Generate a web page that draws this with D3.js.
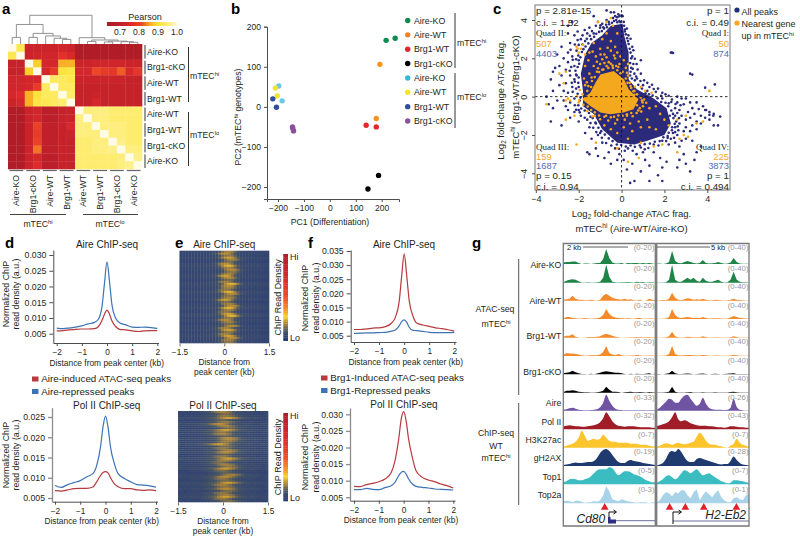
<!DOCTYPE html>
<html>
<head>
<meta charset="utf-8">
<script src="https://cdn.jsdelivr.net/npm/d3@7"></script>
<style>
  html, body { margin: 0; padding: 0; background: #fff; }
  svg { display: block; font-family: "Liberation Sans", Arial, sans-serif; }
  text { fill: #231f20; }
  .tick text { font-family: "Liberation Sans", Arial, sans-serif; }
</style>
</head>
<body>
<div class="svg-container"></div>
<script>
/* =================== data ================= */

// panel a
var genotypes = ["Aire-KO", "Brg1-cKO", "Aire-WT", "Brg1-WT", "Aire-WT", "Brg1-WT", "Brg1-cKO", "Aire-KO"];
var pearsonTicks = [0.7, 0.8, 0.9, 1.0];
var pearson = [
  [1.00,.92,.72,.72,.72,.72,.73,.72,.66,.66,.66,.66,.66,.66,.66,.66],
  [.92,1.00,.72,.73,.73,.73,.77,.75,.66,.66,.66,.66,.66,.66,.66,.66],
  [.71,.71,1.00,.88,.74,.74,.86,.86,.72,.72,.73,.73,.73,.73,.72,.72],
  [.71,.71,.88,1.00,.74,.79,.90,.91,.74,.74,.81,.79,.78,.82,.75,.78],
  [.73,.73,.74,.74,1.00,.93,.93,.92,.72,.72,.72,.72,.72,.72,.71,.71],
  [.73,.73,.74,.79,.93,1.00,.93,.93,.71,.71,.71,.71,.71,.71,.71,.71],
  [.74,.76,.86,.90,.93,.93,1.00,.94,.71,.71,.72,.71,.71,.71,.71,.71],
  [.72,.74,.86,.91,.92,.93,.94,1.00,.71,.71,.74,.71,.71,.71,.71,.71],
  [.66,.66,.72,.73,.69,.69,.71,.71,1.00,.95,.95,.95,.94,.94,.94,.94],
  [.66,.66,.72,.74,.69,.69,.71,.72,.95,1.00,.95,.95,.94,.94,.94,.94],
  [.66,.66,.72,.80,.70,.70,.71,.75,.95,.95,1.00,.95,.95,.95,.94,.94],
  [.66,.66,.72,.79,.70,.70,.71,.72,.95,.95,.95,1.00,.95,.95,.94,.94],
  [.66,.66,.72,.80,.70,.70,.71,.71,.94,.94,.95,.95,1.00,.96,.94,.94],
  [.66,.66,.72,.83,.70,.70,.71,.71,.94,.94,.95,.95,.96,1.00,.95,.95],
  [.66,.66,.72,.74,.69,.69,.71,.71,.94,.94,.94,.94,.94,.95,1.00,.96],
  [.66,.66,.72,.76,.69,.69,.71,.71,.94,.94,.94,.94,.94,.95,.96,1.00]
];
// nodes are [height, left, right], leaves are heatmap column numbers
var dendrogram = [1.0,
  [.68, [.23, 0, 1],
        [.37, [.23, 2, 3], [.28, 4, [.20, 5, [.16, 6, 7]]]]],
  [.22, 8, [.14, [.09, 9, 10], [.10, [.07, 11, 12], [.08, 13, [.06, 14, 15]]]]]
];

// panel b
var pcaGroups = ["Aire-KO", "Aire-WT", "Brg1-WT", "Brg1-cKO", "Aire-KO", "Aire-WT", "Brg1-WT", "Brg1-cKO"];
var pcaColors = ["#0f8a50", "#f5822a", "#e3262c", "#000000", "#35b9d8", "#f2e62c", "#2e4fa0", "#8e4f9f"];
var pcaSampleColors = ["#0f8a50", "#0f8a50", "#f7941e", "#f7941e", "#e3262c", "#e3262c", "#000000", "#000000",
                       "#6ec6e6", "#6ec6e6", "#f2e62c", "#f2e62c", "#2e4fa0", "#2e4fa0", "#8e4f9f", "#8e4f9f", "#8e4f9f"];
var pc1 = [217, 252, 193, 179, 140, 179, 188, 147, -197, -184, -210, -203, -220, -206, -144, -143, -140];
var pc2 = [166, 171, 106, -29, -46, -50, -171, -205, 52, 15, 47, 27, 20, -1, -50, -54, -60];

// panel c: outline of the solid part of each cloud, then the points around it
var navyCloud = [[-.5,3.7],[.05,3.8],[.12,3.2],[.33,2.3],[.33,.9],[.71,.38],[1.5,-.1],[2.1,-.6],[2.3,-1.4],[2.0,-2.0],[1.2,-2.3],
  [.6,-2.5],[-.2,-2.4],[-.9,-1.7],[-1.3,-.9],[-1.8,-.5],[-1.8,.3],[-1.9,1.2],[-1.7,2.2],[-1.4,2.8],[-.9,3.2]];
var goldCloud = [[-.99,1.16],[-.37,1.34],[.12,.9],[.33,.38],[.79,-.14],[.56,-.66],[.09,-.83],[-.53,-.92],[-.99,-.83],
  [-1.46,-.49],[-1.85,-.14],[-1.46,.21],[-1.22,.73]];
var navyPoints = [[-3.2,1.3],[-3.1,1.5],[-2.9,1.6],[-3.3,.9],[-2.8,1.1],[-2.6,1.4],[-2.6,.7],[-2.9,.6],[-3.2,.3],[-3.5,0],[-3.4,-.4],[-3.2,-.6],
  [-3.3,-1.3],[-2.7,-.2],[-2.4,-.3],[-2.5,.2],[-2.3,.5],[-2.7,.3],[-2.2,.9],[-2.4,1.1],[-2.5,1.8],[-2.2,1.6],[-2.3,2.1],[-2.7,2.0],[-2.5,2.3],
  [-2.1,2.4],[-2.0,2.7],[-1.9,3.0],[-1.7,2.9],[-1.6,3.3],[-2.2,3.2],[-2.5,3.7],[-2.3,3.9],[-2.5,3.3],[-2.4,2.8],[-1.3,3.3],[-1.5,3.6],[-1.2,3.7],
  [-1.0,3.6],[-1.1,3.9],[-.7,4.0],[-.6,3.9],[-.4,4.1],[-.3,4.2],[-.2,4.15],[-.1,4.2],[0,4.25],[.05,4.2],[-.25,4.0],[-.1,3.95],[.1,3.9],[-.35,4.4],
  [-.15,4.3],[-.9,3.8],[-1.3,4.2],[-.7,4.5],[-.5,4.4],[-2.05,3.4],[-2.8,2.6],[-3.0,2.2],[-2.0,1.9],[-2.1,1.1],[-2.0,.5],[-1.95,-.2],
  [.3,2.9],[.5,2.6],[.15,3.4],[.5,2.1],[.7,1.7],[.45,1.5],[.6,1.2],[.9,1.2],[.9,1.9],[.55,1.7],[.4,1.1],[1.0,.6],[1.3,.5],[1.5,.4],[1.2,.3],[1.6,.25],
  [1.9,.2],[2.2,.05],[2.3,2.3],[2.35,2.3],[2.4,2.28],[3.2,1.2],[3.3,1.15],[3.9,.47],[4.35,.64],[4.28,-1.0],[4.6,-1.04],[3.95,-.7],[4.1,-.95],[4.5,-1.5],[4.3,-1.5],
  [2.6,0],[2.8,-.1],[3.0,-.1],[3.2,-.3],[3.5,-.3],[3.8,-.5],[3.6,-.65],[3.9,-.7],[4.1,-.8],[4.3,-.9],[3.3,-.6],[2.9,-.4],[2.6,-.3],[2.5,-.6],[2.7,-.7],
  [3.1,-.8],[3.4,-.9],[3.7,-1.0],[3.9,-1.1],[4.1,-1.2],[2.5,-1.0],[2.8,-1.0],[3.0,-1.2],[3.2,-1.1],[3.5,-1.3],[3.7,-1.4],[3.3,-1.5],[3.0,-1.6],[2.7,-1.4],
  [2.5,-1.6],[2.9,-1.8],[3.2,-1.8],[3.5,-1.7],[2.6,-2.0],[2.4,-1.9],[2.3,-2.2],[2.8,-2.3],[3.0,-2.2],[2.5,-2.4],[2.2,-2.5],[2.7,-2.6],[3.3,-2.3],
  [2.4,-.9],[2.55,-1.3],[2.35,-1.75],[2.65,-1.75],[2.75,-.45],[2.2,-.35],[2.35,-.15],[1.9,-.1],[2.15,-2.15],
  [2.9,-3.0],[2.7,-3.3],[3.0,-3.5],[3.4,-3.3],[2.6,-3.7],[3.2,-3.9],[3.5,-2.9],[3.7,-2.6],[1.1,-3.3],[1.3,-3.6],[1.8,-3.2],[1.9,-3.7],[2.1,-3.4],[.9,-3.9],
  [.6,-4.4],[.4,-4.5],[.25,-3.8],[.5,-3.5],[1.7,-4.1],[1.9,-4.4],[1.3,-4.4],[.1,-3.3],[.7,-3.0],[1.0,-2.9],[1.5,-2.9],[-.3,-2.7],[-.6,-2.9],[-.1,-3.0],
  [-.2,-3.3],[-.9,-2.4],[-1.2,-2.7],[-1.5,-3.0],[-1.6,-2.9],[-1.1,-3.1],[-.8,-3.2],[-.5,-3.5],[-1.4,-2.2],[-1.1,-2.0],[-1.5,-1.6],[-1.7,-1.9],[-2.0,-1.3],
  [-1.9,-1.0],[-2.2,-.8],[-1.6,-1.2],[-2.4,-1.1],[-2.5,-.7],[-2.0,-.7],[-2.6,-.5],[-3.0,-.2],[-2.8,-1.5],[-1.45,-1.05],[-1.2,-1.4],[-1.0,-1.9],[.3,-2.7],[.9,-2.65],[1.5,-2.5],[1.9,-2.3],[2.25,-1.0],
  [-2.15,1.35],[-2.05,1.55],[-1.98,1.72],[-2.12,1.95],[-1.92,2.05],[-1.85,2.33],[-2.02,2.15],[-1.78,2.48],[-1.68,2.62],[-1.82,2.72],[-1.55,2.78],[-1.62,3.02],[-1.42,3.0],[-1.48,3.18],
  [-1.28,3.12],[-1.18,3.28],[-1.05,3.38],[-.92,3.42],[-.82,3.55],[-.68,3.62],[-.58,3.78],[-.45,3.85],[-.72,3.75],[-.35,3.95],[-.2,3.88],[-.05,3.88],[.12,3.7],[.16,3.5],[.2,3.25],[.26,3.05],
  [.33,2.75],[.38,2.5],[.42,2.3],[.45,2.0],[.4,1.75],[.52,1.45],[.42,1.3],[.48,.95],[.62,.85],[.78,.62],[.72,.95],[.95,.42],[1.12,.18],[1.28,.12],[1.45,.06],[1.68,-.08],[1.85,-.28],[2.05,-.32],
  [2.18,-.5],[2.32,-.72],[2.42,-1.12],[2.48,-1.42],[2.36,-1.6],[2.2,-1.88],[2.15,-2.05],[1.95,-2.12],[1.78,-2.32],[1.55,-2.35],[1.32,-2.45],[1.08,-2.48],[.85,-2.55],[.62,-2.62],[.42,-2.55],
  [.2,-2.6],[-.02,-2.52],[-.22,-2.5],[-.42,-2.32],[-.6,-2.18],[-.78,-1.98],[-.95,-1.8],[-1.08,-1.62],[-1.22,-1.35],[-1.35,-1.12],[-1.52,-.85],[-1.72,-.72],[-1.88,-.62],[-2.02,-.45],[-1.92,-.05],
  [-2.05,.15],[-2.12,.42],[-2.02,.72],[-2.18,.78],[-2.0,1.0],[-2.12,1.15],
  [-2.35,1.55],[-2.42,1.35],[-2.32,.72],[-2.28,.25],[-2.2,-.1],[-2.18,-.45],[-2.28,1.92],[-2.38,2.45],[-2.18,2.72],[-2.05,2.95],[-1.82,3.2],[-1.72,3.48],[-1.38,3.42],[-.85,3.62],[-.98,3.72],
  [.25,3.55],[.32,3.2],[.42,3.02],[.55,2.42],[.62,1.98],[.75,1.42],[.68,1.05],[.88,.82],[1.05,.85],[1.2,.72],[1.42,.62],[1.7,.42],[1.85,.05],[2.05,.12],[2.32,-.28],[2.52,-.38],[2.6,-.85],
  [2.68,-1.12],[2.62,-1.55],[2.5,-1.85],[2.45,-2.15],[2.08,-2.32],[1.72,-2.55],[1.25,-2.68],[1.08,-2.75],[.52,-2.82],[.15,-2.82],[-.12,-2.72],[-.48,-2.55],[-.72,-2.42],[-.92,-2.15],[-1.18,-1.85],
  [-1.32,-1.62],[-1.45,-1.38],[-1.72,-1.1],[-1.95,-.82],[-2.12,-.68]];
var goldPoints = [[-2.05,2.5],[-1.9,2.5],[-2.1,2.6],[-1.8,2.7],[-2.0,2.3],[-1.7,2.2],[-1.5,2.3],[-1.2,2.1],[-1.0,2.5],[-.8,2.2],[-.5,2.4],[-.2,2.3],[-.3,2.0],
  [-.6,1.8],[-1.0,1.7],[-1.3,1.6],[-.1,1.7],[.1,1.9],[.3,1.7],[-.4,1.5],[-.9,1.4],[-1.5,1.2],[-1.7,1.6],[-2.6,1.3],[-2.9,1.2],[-2.7,.7],[-2.6,-.2],[-2.5,-.1],
  [-2.4,-.2],[-3.5,-.4],[-2.2,-1.0],[-2.6,-1.2],[.3,1.1],[.2,1.5],[.6,.3],[.9,.5],[1.1,.3],[1.4,.2],[1.0,-.5],[1.3,-.6],[1.6,-.5],[1.8,-.9],[2.0,-1.2],[1.2,-1.2],
  [.8,-1.3],[.4,-1.4],[.1,-1.6],[-.3,-1.4],[-.5,-1.7],[-.8,-1.5],[-.2,-1.9],[.5,-1.8],[.9,-1.6],[1.3,-1.6],[1.6,-1.7],[2.2,-1.5],[2.6,-1.2],[3.0,-1.0],[3.5,-1.4],
  [3.8,-1.3],[4.1,.3],[3.1,-2.1],[2.9,-2.0],[2.7,-2.2],[.3,-2.2],[.9,-2.4],[1.5,-2.6],[1.9,-2.5],[2.6,-2.9],[-.2,-2.7],[-1.2,-2.4],[-2.1,-2.5],[.3,-3.4],[.8,-3.2],
  [-.5,2.9],[-.7,3.3],[-.9,3.0],[-.2,3.3],[-.4,3.7],[-1.3,2.8],[-.7,3.9],[-.5,4.1],[-1.1,3.9],[-.7,1.6],[-1.15,1.3],[-.8,1.75],[-.25,1.6],[.05,1.3],[.25,1.25],
  [-1.7,.6],[-1.95,.35],[-1.75,.95],[-1.4,1.0],[-2.0,-.3],[-1.6,-.75],[-1.25,-1.0],[-.8,-1.05],[-.35,-1.05],[.25,-1.0],[.7,-.85],[.85,-.6],[.95,-.2],[.6,.1],[.45,.45],
  [-1.05,1.28],[-.85,1.42],[-.62,1.5],[-.42,1.62],[-.2,1.38],[-.05,1.22],[.2,.95],[.28,.72],[.42,.55],[.55,.28],[.72,.12],[.9,-.05],[.98,-.3],[.72,-.45],[.78,-.72],[.45,-.85],
  [.25,-.92],[.05,-1.0],[-.15,-.98],[-.5,-1.08],[-.72,-1.0],[-1.05,-.98],[-1.25,-.82],[-1.42,-.7],[-1.58,-.52],[-1.78,-.42],[-1.98,-.18],[-2.08,.02],[-1.82,.12],[-1.6,.3],[-1.55,.55],
  [-1.38,.82],[-1.25,1.02],[-1.42,.5],[-1.62,.75],[-1.1,1.48],[-.5,1.72],[-.15,1.55],[.38,.72],[.62,.52],[1.05,-.15],[1.15,-.32],[.92,-.78],[.52,-1.02],[.15,-1.2],[-.2,-1.2],[-.62,-1.25],
  [-1.0,-1.18],[-1.35,-1.02],[-.9,1.95],[-.7,2.05],[-1.15,1.82],[-.35,2.15],[-.05,2.1],[-.98,2.2],[-1.55,1.9],[-1.35,2.35],[-.65,2.55],[-.3,2.6]];
var quadStats = [
  { name: "Quad II:", p: "p = 2.81e-15", ci: "c.i. = 1.52", gold: 507, blue: 4403 },
  { name: "Quad I:", p: "p = 1", ci: "c.i. = 0.49", gold: 50, blue: 874 },
  { name: "Quad III:", p: "p = 0.15", ci: "c.i. = 0.94", gold: 159, blue: 1687 },
  { name: "Quad IV:", p: "p = 1", ci: "c.i. = 0.494", gold: 225, blue: 3873 }
];

// panels d, f: shared distance positions, then one density series per curve
var distKb = [-2,-1.75,-1.5,-1.25,-1,-.75,-.5,-.35,-.2,-.1,0,.1,.2,.35,.5,.75,1,1.25,1.5,1.75,2];
var dAireBlue = [.0068,.0066,.0068,.0071,.0075,.0081,.0086,.0095,.0135,.021,.0278,.0215,.014,.0098,.0085,.0078,.0071,.0070,.0071,.0069,.0067];
var dAireRed = [.0059,.0060,.0062,.0064,.0065,.0065,.0066,.0072,.0092,.0112,.0125,.0112,.0090,.0072,.0064,.0062,.0059,.0057,.0059,.0060,.0060];
var dPolBlue = [.0081,.0076,.0083,.0088,.0093,.0102,.0110,.0130,.0175,.0225,.0252,.0225,.0175,.0135,.0110,.0098,.0090,.0083,.0082,.0080,.0077];
var dPolRed = [.0068,.0067,.0070,.0073,.0074,.0074,.0077,.0090,.0105,.0113,.0115,.0112,.0100,.0085,.0078,.0073,.0073,.0070,.0069,.0070,.0068];
var fAireRed = [.0072,.0072,.0074,.0077,.0078,.0082,.0095,.0115,.017,.026,.034,.0265,.0175,.012,.0095,.0088,.0083,.0078,.0075,.0071,.0066];
var fAireBlue = [.0058,.0059,.0060,.0060,.0061,.0062,.0066,.0070,.0085,.0100,.0106,.0098,.0080,.0069,.0068,.0065,.0062,.0061,.0061,.0061,.0062];
var fPolRed = [.0083,.0082,.0088,.0092,.0097,.0105,.0125,.0160,.0225,.0285,.0308,.0280,.0225,.0170,.0130,.0110,.0102,.0097,.0090,.0085,.0078];
var fPolBlue = [.0073,.0073,.0077,.0074,.0073,.0079,.0085,.0095,.0115,.0125,.0128,.0120,.0105,.0090,.0083,.0080,.0078,.0075,.0074,.0073,.0072];
var densityTicksD = [.005,.010,.015,.020,.025,.030];
var densityTicksPol = [.005,.010,.015,.020,.025];
var densityTicksF = [.005,.010,.015,.020,.025,.030,.035];
var densityTicksFPol = [.005,.010,.015,.020,.025,.030];
var kbTicks = [-2,-1,0,1,2];

// panel e: signal across the window, strength of each row band, sideways drift of each band
var heatTicks = [-1.5, 0, 1.5];
var aireProfile = [.05,.05,.06,.05,.06,.05,.06,.05,.06,.06,.06,.07,.08,.11,.16,.19,.20,.19,.15,.10,.07,.06,.06,.05,.06,.05,.06,.05,.05,.05];
var polProfile = [.06,.05,.06,.05,.06,.06,.06,.06,.07,.08,.09,.10,.12,.15,.17,.18,.18,.16,.14,.11,.09,.08,.07,.06,.07,.06,.06,.05,.05,.06];
var aireRows = [.9,1.0,.8,1.1,.9,.7,1.0,1.2,.9,1.0,.8,.9,1.1,1.0,.7,.9,1.2,1.0,.9,.8,1.2,1.0,.8,.9,1.1,.7,.9,1.0,1.2,.9,.8,1.1,1.2,.8,1.0,.9,.7,1.0,.9,1.1,.8,.9,1.1,1.0,.9,.8];
var polRows = [1.0,.8,.9,1.2,.7,.9,1.1,1.0,.8,1.2,.9,1.0,.7,1.1,1.0,.9,1.2,.8,.9,1.0,1.1,.7,.9,1.2,1.0,.8,1.0,.9,1.2,.8,.7,1.0,1.1,.9,.8,1.2,1.0,.9,1.1,.8,.9,1.0,1.2,.9,.8];
var aireDrift = [0,1,0,0,-1,0,1,0,0,-1,-1,0,1,0,0,1,-1,0,0,1,0,-1,0,0,1,1,0,-1,0,0,1,0,-1,0,1,0,0,-1,1,0,0,1,0,-1,0,0];
var polDrift = [1,0,0,-1,1,0,2,0,-1,0,1,1,0,-1,-1,0,2,0,1,-1,0,0,1,-1,0,2,0,-1,0,1,0,-2,0,1,0,-1,1,0,0,-1,1,0,0,1,-1];
var densityStops = [0, .10, .20, .27, .33, .50, .80, 1];
var densityColors = ["#25397c", "#465464", "#b88a33", "#f9d92a", "#f7a022", "#ee4a27", "#cc2229", "#a31f2a"];

// panel g: signal per track in 31 bins for the Cd80 window and 31 for the H2-Eb2 window
var trackNames = ["Aire-KO", "Aire-WT", "Brg1-WT", "Brg1-cKO", "Aire", "Pol II", "H3K27ac", "gH2AX", "Top1", "Top2a"];
var trackColors = ["#1f8447","#1f8447","#f58a2b","#f58a2b","#f58a2b","#f58a2b","#000000","#000000","#6e54a3","#a01c26","#fcc52d","#1f3a6e","#3bbcc0","#a9d3e8"];
var trackLeftRange = ["(0-20)","(0-20)","(0-20)","(0-20)","(0-20)","(0-20)","(0-20)","(0-20)","(0-33)","(0-32)","(0-7)","(0-19)","(0-5)","(0-3)"];
var trackRightRange = ["(0-40)","(0-40)","(0-40)","(0-40)","(0-40)","(0-40)","(0-40)","(0-40)","(0-26)","(0-43)","(0-7)","(0-28)","(0-7)","(0-1)"];
var leftTracks = [
  [1.5,2,2,2.5,2.5,1,0,.5,.5,0,.5,1,1,5,15,6,1.5,.5,.5,1,0,1,.7,1,1,.5,1,.5,1,.5,0],
  [.5,2,3,3.5,3,1.5,.3,.3,.5,.3,.3,.5,1,5,18,6,1,.5,.3,.5,.5,.7,.5,.3,1,.5,.7,.3,.5,.5,.3],
  [1,1.5,2,5,2,1,1,.5,.5,1,.5,.3,1,5,7,5,3,2,1.5,1,2,1,1.5,.5,.3,1,0,.3,2,1,.5],
  [.3,2,2,1,.8,.3,.5,1,.5,.3,.5,.7,1.5,4,10,5,2.5,1.5,1,.7,.5,.7,.5,.3,1,1,.3,.3,.5,.5,.3],
  [1,2,2,3.5,1,.3,0,.3,.7,.7,.7,1,1.5,3,4,3,2,1,.5,0,.3,.3,.5,.5,.7,.5,.5,.5,.7,.3,.5],
  [1,3,2.5,2.5,2,1.5,.7,.3,.5,.7,.7,.7,1.5,4,10,3,1.5,.7,2,.7,.3,.3,.5,.5,1,.5,.3,.3,.5,.5,.3],
  [1,1.5,2,3.5,2,1,.3,.3,0,.5,0,.7,1.5,2.5,3,2.5,2,1.5,1.5,1,.3,0,.5,0,.5,.3,.3,.5,1,0,.5],
  [.5,2,2,2.5,2,1,.7,.5,.5,.3,.3,.5,1,2,6,3,1,1,.7,0,.5,.7,1,.5,.5,.7,.5,.3,.7,.5,.3],
  [1,1.5,2.5,3,2,1,.7,.5,.5,.7,1,1.5,3.5,8,16,10,5,2,1,.7,.5,.5,.5,.5,.5,.5,.5,.5,.5,.5,.5],
  [3,3.5,4,3.5,3,3,2.5,2.5,3,3.5,4,5,7,11,17,13,8,5,3.5,3,2.5,3,3,3,2.5,2,2,2,2,1.5,1.5],
  [1,2,3,4,6,10,17,12,7,8,9,8,9,13,10,7,6,6,5,5,5,5,4,4,4,3,3,3,2,1.5,1],
  [1,1.5,2,3,3.5,3,3,3.5,4,4,5,8,13,16,17,15,11,7,4,3,3,5,6,5,4.5,4,3,2.5,2,1.5,1],
  [2,3,5,5.5,5,4,4,5,6,8,11,14,15,15,15,17,16,12,9,11,13,13,12,10,9,8,6,4,3,2,2],
  [2,2.5,2,1,2.5,2.5,1.5,.5,1,1,2,1.5,3,8,17,12,4,3,2,4,3,2,1.5,1,.5,1,1,1,0,1,.5]
];
var rightTracks = [
  [.3,.5,0,.5,2,13,3,1,.7,2,3,2,1,.5,1,4,1,.5,.7,1,2,1,.3,.5,1.5,6,2,.5,.3,.3,.3],
  [.3,.3,.3,.5,3,18,3,1,1,3,5,3,5,2,1,5,2,1,1,2,3,1,.3,.5,3,11,3,1,.5,.5,.3],
  [.3,.5,.7,.5,2,8,3,1,.5,1.5,2.5,2,1,1.5,1,2,1,.5,.5,1,.7,.5,.3,.5,1,2,1,.7,.5,.3,.3],
  [.3,.3,.3,.5,2,10,4,1.5,1,1.5,2,1.5,1,1,1,2,1,.5,.5,.7,.7,.5,.3,.5,1.5,3,2,1,.7,.5,.3],
  [.3,.3,.3,.5,1.5,6,1.5,.5,.3,.5,1,.7,.5,.5,.5,1.5,.7,.3,.3,.5,.5,.3,.3,.3,.5,1.5,.7,.3,.3,.3,.3],
  [.3,.3,.3,.5,2,10,2,.7,.5,.7,1,1,.7,.5,.5,1,.7,.3,.3,.5,.5,.3,.3,.3,.5,1,.7,.3,.3,.3,.3],
  [.3,.3,0,.5,1,3.5,1,.3,.3,.5,.7,.5,0,.3,.5,.7,.3,0,.3,.5,.3,0,.3,.5,.7,1,.3,.3,.3,.3,.3],
  [.3,.3,.3,.5,1,6,1,.3,.3,.3,.5,.7,.3,.3,.3,.5,.3,.3,.3,.5,.3,.3,.3,.3,.7,1,.5,.3,.3,.3,.3],
  [1,3,6,9,12,11,8,8,12,15,16,12,8,5,7,13,7,3,1.5,1,1,1,.7,1,3,12,4,1,.5,.3,.3],
  [3,4,5,6,8,12,17,10,8,9,8,6,5,4,3.5,3.5,3.5,3,3,2.5,2,2,1.5,2,3,3,2.5,2,2,1.5,1.5],
  [1,2,3.5,4.5,4,3,4,5,4,3.5,4,5,6,11,15,12,7,4,3,3,2,1.5,.5,.3,2,4,9,5,3,2,1],
  [.5,1.5,3,7,13,15,14,17,14,9,5,4,4,7,8,7,6,5,4,3,2,1.5,2,2,5,9.5,6,3,1.5,1,.5],
  [1.5,3,5,8,9,7,5,7,11,14,13,11,13,15,12,9,10,11,9,7,5,3,2,1,1.5,4,4,3.5,3,2,1.5],
  [1,3,8,11,10,7,11,10,13,13,8,5,11,14,3,8,12,9,6,10,13,6,3,1,1,5,6,4,3,8,10]
];

/* =================== helpers ================= */
var svg = d3.select(".svg-container").append("svg")
    .attr("width", 800)
    .attr("height", 537)
    .attr("viewBox", "0 0 800 537");

var SANS = '"Liberation Sans", Arial, sans-serif';
var SERIF = '"Liberation Serif", "Times New Roman", serif';
var RED = "#b73a3e", BLUE = "#3d73b4";
var AXIS = "#4d4d4f";

// writes text, "^x" makes a superscript and "_x" a subscript of the rest of the word
function label(x, y, str, size, opts) {
    opts = opts || {};
    var t = svg.append("text")
        .attr("font-size", size)
        .attr("text-anchor", opts.anchor || "start")
        .attr("font-family", opts.family || SANS)
        .attr("font-weight", opts.weight || "normal")
        .style("fill", opts.color || "#231f20");
    if (opts.rotate) {
        t.attr("transform", "translate(" + x + "," + y + ") rotate(" + opts.rotate + ")");
    } else {
        t.attr("x", x).attr("y", y);
    }
    var parts = str.split(/([\^_]\w+)/).filter(function(d) { return d !== ""; });
    var shift = 0;
    parts.forEach(function(p) {
        var span = t.append("tspan");
        var off = 0;
        if (p[0] === "^") { off = -size * 0.38; span.attr("font-size", size * 0.68); p = p.slice(1); }
        else if (p[0] === "_") { off = size * 0.25; span.attr("font-size", size * 0.68); p = p.slice(1); }
        span.attr("dy", off - shift).text(p);
        shift = off;
    });
    return t;
}

function line(x1, y1, x2, y2, color, width, dash) {
    svg.append("line").attr("x1", x1).attr("y1", y1).attr("x2", x2).attr("y2", y2)
        .attr("stroke", color).attr("stroke-width", width)
        .attr("stroke-dasharray", dash || null);
}

// linear scale set by two tick positions, then stretched to the drawn axis length
function axisScale(v0, v1, p0, p1, pStart, pEnd) {
    var s = d3.scaleLinear().domain([v0, v1]).range([p0, p1]);
    return d3.scaleLinear().domain([s.invert(pStart), s.invert(pEnd)]).range([pStart, pEnd]);
}

function drawAxis(axis, x, y, size, color, width) {
    var g = svg.append("g").attr("transform", "translate(" + x + "," + y + ")").call(axis);
    g.selectAll("text").style("font-size", size + "px").style("fill", "#231f20");
    g.selectAll("path, line").attr("stroke", color).attr("stroke-width", width);
    return g;
}

/* =================== panel a ================= */
function drawPearson() {
    var cols = d3.range(16);
    var x = d3.scaleBand().domain(cols).range([8, 142]);
    var y = d3.scaleBand().domain(cols).range([44, 169]);
    var color = d3.scaleLinear()
        .domain([.64, .70, .76, .81, .85, .89, .93, .97, 1.0])
        .range(["#aa1c25", "#c0202a", "#de2a2b", "#ec4726", "#f8a024", "#fde02f", "#fdea60", "#fdf29a", "#fffbe6"]);

    pearson.forEach(function(row, r) {
        svg.append("g").selectAll("rect").data(row).enter().append("rect")
            .attr("x", function(d, c) { return x(c); })
            .attr("y", y(r))
            .attr("width", x.bandwidth() + .3)
            .attr("height", y.bandwidth() + .3)
            .attr("fill", function(d) { return color(d); });
    });

    // dendrogram above the columns
    var h = d3.scaleLinear().domain([0, 1]).range([44, 15.3]);
    function tree(node) {
        if (typeof node === "number") return { x: x(node) + x.bandwidth() / 2, y: h(0) };
        var l = tree(node[1]), r = tree(node[2]), top = h(node[0]);
        svg.append("path").attr("fill", "none").attr("stroke", "#777").attr("stroke-width", .8)
            .attr("d", "M" + l.x + "," + l.y + "V" + top + "H" + r.x + "V" + r.y);
        return { x: (l.x + r.x) / 2, y: top };
    }
    tree(dendrogram);

    // colour key
    var key = d3.scaleLinear().domain([.7, 1.0]).range([120, 177]);
    var keySteps = d3.range(107, 180);
    svg.append("g").selectAll("rect").data(keySteps).enter().append("rect")
        .attr("x", function(d) { return d; }).attr("y", 22).attr("width", 1.2).attr("height", 4)
        .attr("fill", function(d) { return color(key.invert(d)); });
    label(145, 20, "Pearson", 9, { anchor: "middle" });
    pearsonTicks.forEach(function(t) {
        label(key(t), 35, d3.format(".1f")(t), 8.5, { anchor: "middle" });
    });

    // row and column labels
    genotypes.forEach(function(name, i) {
        var rowY = y(2 * i);
        var colX = x(2 * i);
        line(145, rowY + 1, 145, rowY + y.bandwidth() * 2 - 1, "#333", 1);
        label(147, rowY + y.bandwidth() + 3, name, 8.7);
        line(colX + 1.5, 170.5, colX + x.bandwidth() * 2 - 1.5, 170.5, "#666", 1.2);
        label(colX + x.bandwidth() + 3, 175, name, 8.7, { anchor: "end", rotate: -90 });
    });
    line(188.5, 47, 188.5, 102, "#333", 1);
    line(188.5, 112, 188.5, 166, "#333", 1);
    label(190, 79, "mTEC^hi", 8.7);
    label(190, 138, "mTEC^lo", 8.7);
    line(10, 214.5, 66, 214.5, "#444", 1);
    line(83, 214.5, 138, 214.5, "#444", 1);
    label(38, 227, "mTEC^hi", 8.7, { anchor: "middle" });
    label(110, 227, "mTEC^lo", 8.7, { anchor: "middle" });
}

/* =================== panel b ================= */
function drawPca() {
    var x = axisScale(-200, 200, 278, 381.7, 267, 399);
    var y = axisScale(-200, 200, 187, 26.7, 199, 26.7);
    drawAxis(d3.axisBottom(x).tickValues([-200, -100, 0, 100, 200]).tickSizeOuter(0).tickSize(3), 0, 199, 8.5, AXIS, 1);
    drawAxis(d3.axisLeft(y).tickValues([-200, -100, 0, 100, 200]).tickSizeOuter(0).tickSize(3), 267, 0, 8.5, AXIS, 1);

    svg.append("g").selectAll("circle").data(pc1).enter().append("circle")
        .attr("cx", function(d) { return x(d); })
        .attr("cy", function(d, i) { return y(pc2[i]); })
        .attr("r", 2.7)
        .attr("fill", function(d, i) { return pcaSampleColors[i]; });

    label(330, 225, "PC1 (Differentiation)", 8.7, { anchor: "middle" });
    label(241, 117, "PC2 (mTEC^hi genotypes)", 8.7, { anchor: "middle", rotate: -90 });

    var legendY = d3.scalePoint().domain(d3.range(8)).range([20.5, 121]);
    pcaGroups.forEach(function(name, i) {
        svg.append("circle").attr("cx", 407.7).attr("cy", legendY(i)).attr("r", 2.7).attr("fill", pcaColors[i]);
        label(414, legendY(i) + 3, name, 8.8);
    });
    line(455, 13, 455, 68, "#333", 1);
    line(455, 73, 455, 128, "#333", 1);
    label(457, 46, "mTEC^hi", 8.7);
    label(457, 100, "mTEC^lo", 8.7);
}

/* =================== panel c ================= */
function drawScatter() {
    var NAVY = "#2b2a7b", GOLD = "#f4a81d", LBLUE = "#4f6db0", LGOLD = "#f2a72e";
    var x = axisScale(-2, 4, 578.7, 707.3, 535, 730);
    var y = axisScale(-4, 4, 173.3, 20, 190, 5);
    var outline = d3.line().x(function(d) { return x(d[0]); }).y(function(d) { return y(d[1]); })
        .curve(d3.curveLinearClosed);

    svg.append("path").attr("d", outline(navyCloud)).attr("fill", NAVY);
    svg.append("g").selectAll("circle").data(navyPoints).enter().append("circle")
        .attr("cx", function(d) { return x(d[0]); }).attr("cy", function(d) { return y(d[1]); })
        .attr("r", 1.3).attr("fill", NAVY);
    svg.append("path").attr("d", outline(goldCloud)).attr("fill", GOLD);
    svg.append("g").selectAll("circle").data(goldPoints).enter().append("circle")
        .attr("cx", function(d) { return x(d[0]); }).attr("cy", function(d) { return y(d[1]); })
        .attr("r", 1.3).attr("fill", GOLD);

    line(x(0), 5, x(0), 190, "#111", .9, "2.5,2.5");
    line(535, y(0), 730, y(0), "#111", .9, "2.5,2.5");
    svg.append("rect").attr("x", 535).attr("y", 5).attr("width", 195).attr("height", 185)
        .attr("fill", "none").attr("stroke", "#777").attr("stroke-width", 1);

    var format = function(d) { return String(d).replace("-", "\u2212"); };
    drawAxis(d3.axisBottom(x).tickValues([-4, -2, 0, 2, 4]).tickFormat(format).tickSize(3).tickSizeOuter(0), 0, 190, 9, AXIS, 1)
        .select("path").remove();
    var yAxis = drawAxis(d3.axisLeft(y).tickValues([-4, -2, 0, 2, 4]).tickFormat(format).tickSize(3).tickSizeOuter(0), 535, 0, 9, AXIS, 1);
    yAxis.select("path").remove();
    yAxis.selectAll("text")
        .attr("text-anchor", "middle").attr("dy", 0).attr("x", 0)
        .attr("transform", function() { return "translate(-8,0) rotate(-90)"; });

    // quadrant notes
    var left = [quadStats[0], quadStats[2]], right = [quadStats[1], quadStats[3]];
    left.concat(right).forEach(function(q, i) {
        var isTop = q === quadStats[0] || q === quadStats[1];
        var anchor = i < 2 ? "start" : "end";
        var tx = i < 2 ? 536 : 729;
        var base = isTop ? [14, 25.5, 36, 47, 57] : [179, 189.5, 149.5, 159.5, 169];
        label(tx, base[0], q.p, 9.8, { anchor: anchor });
        label(tx, base[1], q.ci, 9.8, { anchor: anchor });
        label(tx, base[2], q.name, 9, { anchor: anchor, family: SERIF });
        label(tx, base[3], String(q.gold), 9.4, { anchor: anchor, color: LGOLD });
        label(tx, base[4], String(q.blue), 9.4, { anchor: anchor, color: LBLUE });
    });

    svg.append("circle").attr("cx", 737).attr("cy", 10).attr("r", 2.6).attr("fill", "#1f2f78");
    svg.append("circle").attr("cx", 737).attr("cy", 23).attr("r", 2.6).attr("fill", GOLD);
    label(741.5, 15, "All peaks", 9);
    label(741.5, 27, "Nearest gene", 9);
    label(741.5, 39, "up in mTEC^hi", 9);

    label(631.5, 217, "Log_2 fold-change ATAC frag.", 9.5, { anchor: "middle" });
    label(631.5, 232, "mTEC^hi (Aire-WT/Aire-KO)", 9.5, { anchor: "middle" });
    label(504, 100, "Log_2 fold-change ATAC frag.", 9.5, { anchor: "middle", rotate: -90 });
    label(519, 97, "mTEC^hi (Brg1-WT/Brg1-cKO)", 9.5, { anchor: "middle", rotate: -90 });
}

/* =================== panels d, f ================= */
function drawProfile(p) {
    var x = axisScale(-2, 2, p.xAt[0], p.xAt[1], p.xStart, p.xEnd);
    var y = axisScale(p.yTicks[0], p.yTicks[p.yTicks.length - 1], p.yAt[0], p.yAt[1], p.bottom, p.top);

    drawAxis(d3.axisBottom(x).tickValues(kbTicks)
        .tickFormat(function(d) { return String(d).replace("-", "\u2212"); })
        .tickSize(3).tickSizeOuter(0), 0, p.bottom, 8.3, AXIS, 1);
    drawAxis(d3.axisLeft(y).tickValues(p.yTicks).tickFormat(d3.format(".3f")).tickSize(4).tickSizeOuter(0),
        p.xStart, 0, 8.7, p.axisColor || AXIS, p.axisWidth || 1);

    var path = d3.line().x(function(d, i) { return x(distKb[i]); }).y(function(d) { return y(d); })
        .curve(d3.curveMonotoneX);
    svg.append("path").attr("d", path(p.under)).attr("fill", "none").attr("stroke", p.underColor).attr("stroke-width", 1.2);
    svg.append("path").attr("d", path(p.over)).attr("fill", "none").attr("stroke", p.overColor).attr("stroke-width", 1.2);

    label(p.titleX, p.titleY, p.title, 10, { anchor: "middle" });
    label(p.xTitleX, p.bottom + 22.7, "Distance from peak center (kb)", 8.4, { anchor: "middle" });
    label(p.yTitleX, p.yTitleY, "Normalized ChIP", 8.8, { anchor: "middle", rotate: -90 });
    label(p.yTitleX + 10.5, p.yTitleY, "read density (a.u.)", 8.8, { anchor: "middle", rotate: -90 });
}

function drawLegendPair(x, y1, y2, first, second, size) {
    svg.append("rect").attr("x", x).attr("y", y1 - 2.5).attr("width", 6.5).attr("height", 5).attr("fill", RED);
    svg.append("rect").attr("x", x).attr("y", y2 - 2.5).attr("width", 6.5).attr("height", 5).attr("fill", BLUE);
    label(x + 9.3, y1 + 3.3, first, size);
    label(x + 9.3, y2 + 3.3, second, size);
}

/* =================== panel e ================= */
function drawHeat(p) {
    var x = d3.scaleLinear().domain([-1.5, 1.5]).range([p.x0, p.x1]);
    var y = d3.scaleBand().domain(d3.range(p.rows.length)).range([p.y0, p.y1]);
    var cell = d3.scaleBand().domain(d3.range(p.profile.length)).range([p.x0, p.x1]);
    var color = d3.scaleLinear().domain(densityStops).range(densityColors);
    var last = p.profile.length - 1;

    p.rows.forEach(function(gain, r) {
        svg.append("g").selectAll("rect").data(p.profile).enter().append("rect")
            .attr("x", function(d, c) { return cell(c); })
            .attr("y", y(r))
            .attr("width", cell.bandwidth() + .3)
            .attr("height", y.bandwidth() + .3)
            .attr("fill", function(d, c) {
                var from = Math.max(0, Math.min(last, c + p.drift[r]));
                return color(p.profile[from] * gain);
            });
    });

    var g = drawAxis(d3.axisBottom(x).tickValues(heatTicks)
        .tickFormat(function(d) { return String(d).replace("-", "\u2212"); })
        .tickSize(3).tickSizeOuter(0), 0, p.y1 + .5, 8.3, AXIS, .8);
    g.select("path").remove();

    label((p.x0 + p.x1) / 2, p.titleY, p.title, 10, { anchor: "middle" });
    label((p.x0 + p.x1) / 2, p.y1 + 22, "Distance from", 8.4, { anchor: "middle" });
    label((p.x0 + p.x1) / 2, p.y1 + 32, "peak center (kb)", 8.4, { anchor: "middle" });

    // colour key
    var key = d3.scaleLinear().domain([0, 1]).range([p.keyY1, p.keyY0]);
    var steps = d3.range(0, 1, .02);
    svg.append("g").selectAll("rect").data(steps).enter().append("rect")
        .attr("x", 283.3).attr("y", function(d) { return key(d + .02); })
        .attr("width", 4.7).attr("height", (p.keyY1 - p.keyY0) * .02 + .3)
        .attr("fill", function(d) { return color(d); });
    label(290, p.keyY0 + 6, "Hi", 9);
    label(290, p.keyY1, "Lo", 9);
    label(281, (p.keyY0 + p.keyY1) / 2, "ChIP Read Density", 9, { anchor: "middle", rotate: -90 });
}

/* =================== panel g ================= */
function drawTracks() {
    var GRAY = "#999";
    var bases = [264, 282.7, 300.7, 319, 337.7, 356, 374.3, 392.7, 410.7, 429.3, 447.7, 466, 484.3, 503.3];
    var rangeY = [247.5, 268.7, 286, 305, 323.3, 341.7, 360, 378.3, 397.3, 415.7, 434, 451.7, 470.7, 489];
    var xLeft = d3.scaleLinear().domain([0, 30]).range([563.3, 655.3]);
    var xRight = d3.scaleLinear().domain([0, 30]).range([656.7, 749]);
    var height = d3.scaleLinear().domain([0, 20]).range([0, 20]);

    function drawTrack(values, xs, base, color, smooth) {
        var area = d3.area().x(function(d, i) { return xs(i); })
            .y0(base).y1(function(d) { return base - height(d); })
            .curve(smooth ? d3.curveMonotoneX : d3.curveLinear);
        svg.append("path").attr("d", area(values)).attr("fill", color);
    }

    leftTracks.forEach(function(values, i) {
        drawTrack(values, xLeft, bases[i], trackColors[i], i >= 8 && i < 13);
        drawTrack(rightTracks[i], xRight, bases[i], trackColors[i], i >= 8 && i < 13);
    });
    // ranges go on top of the signal
    trackLeftRange.forEach(function(r, i) {
        label(654.5, rangeY[i] + 2.5, r, 7.8, { anchor: "end", color: GRAY });
        label(748.5, rangeY[i] + 2.5, trackRightRange[i], 7.8, { anchor: "end", color: GRAY });
    });

    // frames and scale bars
    svg.append("path").attr("fill", "none").attr("stroke", "#777").attr("stroke-width", 1.3)
        .attr("d", "M563.3,243.5H655.3V526H563.3Z");
    svg.append("path").attr("fill", "none").attr("stroke", "#777").attr("stroke-width", 1.3)
        .attr("d", "M656.7,243.5H749V526H656.7Z");
    label(567, 250, "2 kb", 7.5);
    line(583, 247, 628, 247, "#333", .8);
    line(657, 247, 710, 247, "#333", .8);
    label(711, 250, "5 kb", 7.5);

    // track names
    var nameY = [265, 301, 336, 372, 403, 421.7, 440, 458, 476.7, 495];
    trackNames.forEach(function(name, i) {
        label(561.3, nameY[i] + 3, name, 8.7, { anchor: "end" });
    });
    line(518.7, 259, 518.7, 395, "#555", 1);
    line(518.7, 403, 518.7, 505, "#555", 1);
    label(495, 312, "ATAC-seq", 8.7, { anchor: "middle" });
    label(496, 327, "mTEC^hi", 8.7, { anchor: "middle" });
    label(496, 436, "ChIP-seq", 8.7, { anchor: "middle" });
    label(496, 449, "WT", 8.7, { anchor: "middle" });
    label(496, 461, "mTEC^hi", 8.7, { anchor: "middle" });

    // peak markers and genes
    var triangle = d3.symbol().type(d3.symbolTriangle).size(26);
    [[xLeft, 13.5], [xRight, 4.2], [xRight, 9.3], [xRight, 15.3], [xRight, 25.9]].forEach(function(d) {
        svg.append("path").attr("d", triangle())
            .attr("transform", "translate(" + d[0](d[1]) + ",507.5)")
            .attr("fill", "#e4202c");
    });
    line(616, 520.7, 655, 520.7, "#6d6e9a", 1);
    svg.append("rect").attr("x", 608).attr("y", 517).attr("width", 2.5).attr("height", 6.5).attr("fill", "#2e2d83");
    svg.append("rect").attr("x", 610).attr("y", 519.5).attr("width", 6).attr("height", 4).attr("fill", "#2e2d83");
    svg.append("path").attr("fill", "none").attr("stroke", "#111").attr("stroke-width", 1)
        .attr("d", "M609,517V512H616M613.5,510L616.5,512L613.5,514");
    label(576.5, 522.5, "Cd80", 12).style("font-style", "italic");

    line(673, 521, 749, 521, "#6d6e9a", 1);
    svg.append("path").attr("fill", "none").attr("stroke", "#111").attr("stroke-width", 1)
        .attr("d", "M673,524V512H681M678.5,510L681.5,512L678.5,514");
    label(746, 518.5, "H2-Eb2", 12, { anchor: "end" }).style("font-style", "italic");
}

/* =================== panel letters ================= */
function drawLetters() {
    [["a", 2, 14], ["b", 231, 14], ["c", 493, 14], ["d", 5, 248], ["e", 175, 248], ["f", 308, 248], ["g", 472, 248]]
        .forEach(function(d) { label(d[1], d[2], d[0], 15, { weight: "bold", color: "#000" }); });
}

drawPearson();
drawPca();
drawScatter();

drawProfile({ title: "Aire ChIP-seq", titleX: 107, titleY: 248, xAt: [56.7, 157.3], xStart: 53.3, xEnd: 158.5,
    yTicks: densityTicksD, yAt: [333.7, 255], bottom: 343, top: 250, under: dAireRed, over: dAireBlue,
    underColor: RED, overColor: BLUE, xTitleX: 106.7, yTitleX: 8.5, yTitleY: 294 });
drawLegendPair(32, 379, 391.5, "Aire-induced ATAC-seq peaks", "Aire-repressed peaks", 9.8);
drawProfile({ title: "Pol II ChIP-seq", titleX: 106.7, titleY: 409, xAt: [55, 156], xStart: 52, xEnd: 157.5,
    yTicks: densityTicksPol, yAt: [498, 417], bottom: 501.7, top: 407.7, under: dPolRed, over: dPolBlue,
    underColor: RED, overColor: BLUE, xTitleX: 101.7, yTitleX: 8.5, yTitleY: 455, axisColor: "#8c8c8c", axisWidth: 1.3 });

drawHeat({ title: "Aire ChIP-seq", titleY: 248, x0: 179.5, x1: 269, y0: 250.7, y1: 343, profile: aireProfile, rows: aireRows, drift: aireDrift, keyY0: 254, keyY1: 340.7 });
drawHeat({ title: "Pol II ChIP-seq", titleY: 409, x0: 178, x1: 268, y0: 411, y1: 502, profile: polProfile, rows: polRows, drift: polDrift, keyY0: 413, keyY1: 501 });

drawProfile({ title: "Aire ChIP-seq", titleX: 404, titleY: 248, xAt: [354, 454.3], xStart: 350.7, xEnd: 456,
    yTicks: densityTicksF, yAt: [335.7, 251], bottom: 342, top: 250, under: fAireBlue, over: fAireRed,
    underColor: BLUE, overColor: RED, xTitleX: 405.7, yTitleX: 308, yTitleY: 298 });
drawLegendPair(321, 378, 390.5, "Brg1-Induced ATAC-seq peaks", "Brg1-Repressed peaks", 9.8);
drawProfile({ title: "Pol II ChIP-seq", titleX: 404, titleY: 408, xAt: [354, 453.3], xStart: 350, xEnd: 455,
    yTicks: densityTicksFPol, yAt: [497.3, 414.3], bottom: 500.7, top: 408, under: fPolBlue, over: fPolRed,
    underColor: BLUE, overColor: RED, xTitleX: 401, yTitleX: 308, yTitleY: 457, axisColor: "#8c8c8c", axisWidth: 1.3 });

drawTracks();
drawLetters();
</script>
</body>
</html>
